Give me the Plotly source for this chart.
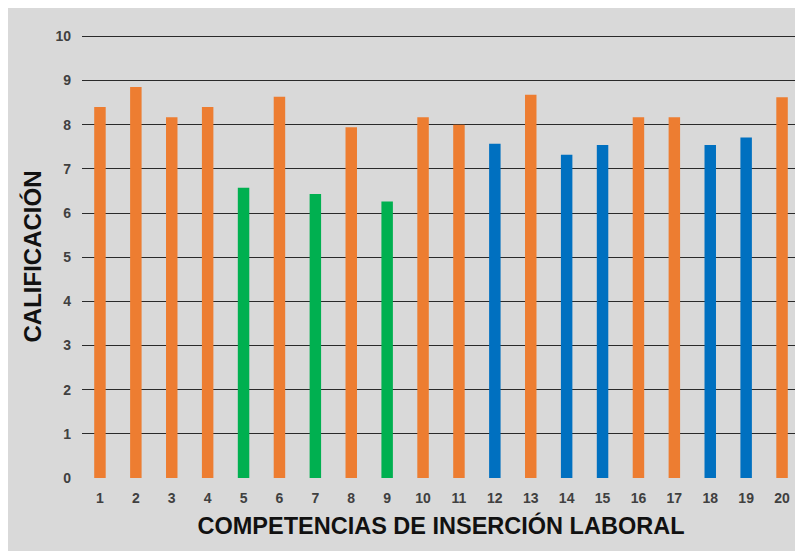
import plotly.graph_objects as go

categories = [str(i) for i in range(1, 21)]
values = [8.4, 8.85, 8.17, 8.4, 6.57, 8.63, 6.43, 7.94, 6.26, 8.17,
          8.0, 7.57, 8.68, 7.32, 7.54, 8.17, 8.17, 7.54, 7.71, 8.62]
groups = ["o", "o", "o", "o", "g", "o", "g", "o", "g", "o",
          "o", "b", "o", "b", "b", "o", "o", "b", "b", "o"]
palette = {"o": "#ED7D31", "g": "#00B050", "b": "#0070C0"}
y_ticks = list(range(0, 11))

fig = go.Figure()
fig.add_trace(go.Bar(
    x=categories, y=values,
    marker=dict(color=[palette[g] for g in groups], line=dict(width=0)),
    width=0.32,
    hoverinfo="x+y",
))

fig.update_layout(
    width=795, height=543,
    margin=dict(l=74, r=3, t=27, b=73),
    paper_bgcolor="#D9D9D9",
    plot_bgcolor="#D9D9D9",
    showlegend=False,
    font=dict(family="Arial, Liberation Sans, sans-serif"),
)
fig.update_xaxes(
    type="category",
    showgrid=False, zeroline=False, showline=False,
    ticks="", ticklabelstandoff=10,
    tickfont=dict(size=14, color="#404040", weight="bold"),
    title=dict(text="<b>COMPETENCIAS DE INSERCIÓN LABORAL</b>",
               font=dict(size=23.5, color="#111111"), standoff=12),
)
fig.update_yaxes(
    range=[0, 10.03], tickvals=y_ticks,
    showgrid=True, gridcolor="#2a2a2a", gridwidth=1.3,
    zeroline=False, showline=False,
    ticks="", ticklabelstandoff=10,
    tickfont=dict(size=14, color="#404040", weight="bold"),
    title=dict(text="<b>CALIFICACIÓN</b>", font=dict(size=24, color="#111111"), standoff=7),
)
fig.write_html("out.html")
